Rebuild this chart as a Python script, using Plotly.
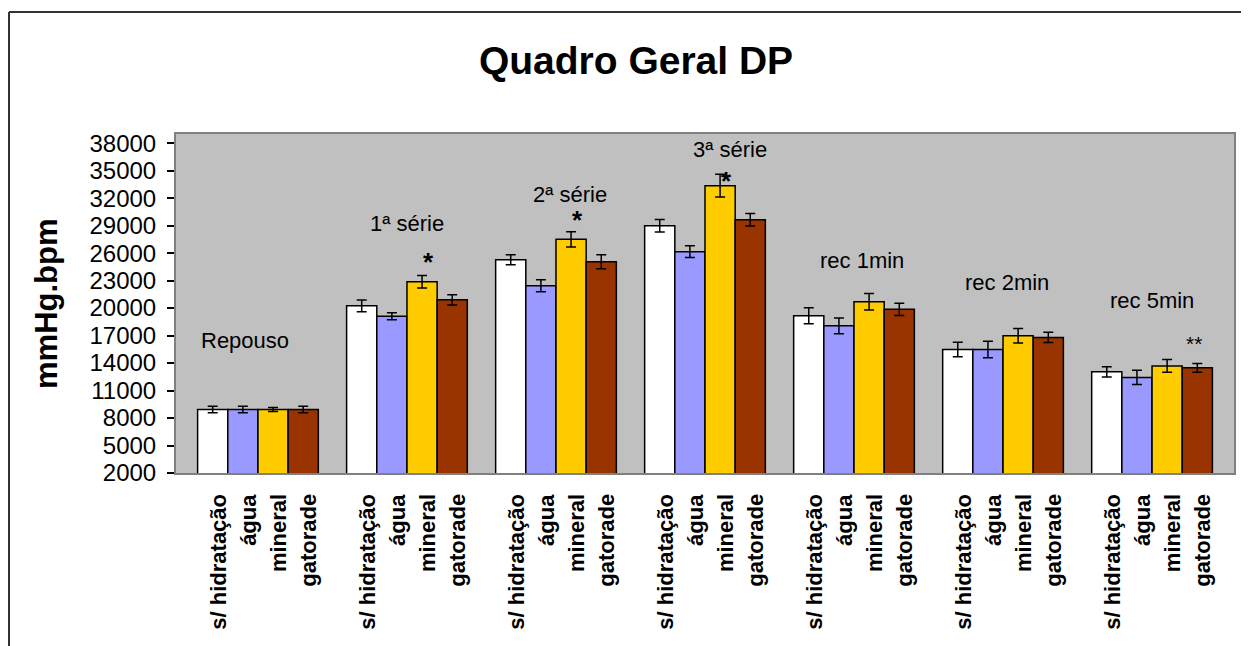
import plotly.graph_objects as go

# data
groups = ['Repouso', '1ª série', '2ª série', '3ª série', 'rec 1min', 'rec 2min', 'rec 5min']
bar_labels = ['s/ hidratação', 'água', 'mineral', 'gatorade']
colors = ['#FFFFFF', '#9999FF', '#FFCC00', '#993300']

sem_hidratacao = [8930, 20250, 25280, 28990, 19160, 15480, 13040]
agua = [8930, 19120, 22440, 26150, 18060, 15480, 12430]
mineral = [8930, 22870, 27500, 33360, 20690, 16970, 13690]
gatorade = [8930, 20900, 25060, 29650, 19860, 16800, 13480]

err_sem = [360, 640, 550, 680, 870, 800, 570]
err_agua = [360, 380, 650, 640, 870, 900, 780]
err_mineral = [220, 680, 820, 1240, 890, 790, 700]
err_gatorade = [360, 560, 760, 680, 680, 570, 480]

# group label positions (x offset inside group, y value, vertical anchor)
group_label_dx = [-0.085, 0.0, 0.095, 0.17, 0.055, 0.025, 0.0]
group_label_y = [16500, 29180, 32380, 35700, 25240, 22750, 20870]
group_label_anchor = ['middle', 'middle', 'middle', 'bottom', 'middle', 'middle', 'middle']

# significance marks: (group, bar, text, y, vertical anchor)
marks = [(1, 2, '*', 25025, 'middle'), (2, 2, '*', 29650, 'middle'),
         (3, 2, '*', 35700, 'top'), (6, 3, '**', 16170, 'middle')]

# the page body has an 8px margin, so the figure is drawn 8px smaller
off = 8
W, H = 1249 - off, 646 - off
ml, mr, mt, mb = 176 - off, 15, 134 - off, 173
bargap = 0.19
font = 'Arial, Liberation Sans, sans-serif'

series = [sem_hidratacao, agua, mineral, gatorade]
errors = [err_sem, err_agua, err_mineral, err_gatorade]

fig = go.Figure()
for name, vals, errs, col in zip(bar_labels, series, errors, colors):
    fig.add_trace(go.Bar(
        x=groups, y=vals, name=name,
        marker=dict(color=col, line=dict(color='black', width=1.5)),
        error_y=dict(type='data', array=errs, visible=True, color='black', thickness=1.5, width=5),
    ))

bw = (1 - bargap) / len(bar_labels)
annotations = []
# bar labels under the axis
for i in range(len(groups)):
    for j, lab in enumerate(bar_labels):
        annotations.append(dict(
            x=i + (j - 1.5) * bw, y=0, xref='x', yref='paper', text='<b>' + lab + '</b>',
            textangle=-90, showarrow=False, yanchor='top', xanchor='center',
            xshift=5, yshift=-19, font=dict(family=font, size=22, color='black')))
# group names
for i, g in enumerate(groups):
    annotations.append(dict(
        x=i + group_label_dx[i], y=group_label_y[i], xref='x', yref='y', text=g,
        showarrow=False, xanchor='center', yanchor=group_label_anchor[i],
        font=dict(family=font, size=22, color='black')))
# significance stars
for gi, bi, txt, yv, anc in marks:
    big = txt == '*'
    annotations.append(dict(
        x=gi + (bi - 1.5) * bw + (0.04 if big else -0.02), y=yv, xref='x', yref='y',
        text='<b>*</b>' if big else txt, showarrow=False, xanchor='center', yanchor=anc,
        font=dict(family=font, size=26 if big else 21, color='black')))

pw = W - ml - mr
ph = H - mt - mb
# y title
annotations.append(dict(
    x=(46 - off - ml) / pw, y=(H - mb - (304 - off)) / ph, xref='paper', yref='paper',
    text='<b>mmHg.bpm</b>', textangle=-90, showarrow=False, xanchor='center', yanchor='middle',
    font=dict(family=font, size=31, color='black')))

fx = (9 - off - ml) / pw
fy = (H - mb - (12 - off)) / ph
shapes = [
    dict(type='line', xref='paper', yref='paper', x0=fx, x1=1.2, y0=fy, y1=fy,
         line=dict(color='#333333', width=2)),
    dict(type='line', xref='paper', yref='paper', x0=fx, x1=fx, y0=fy, y1=-1,
         line=dict(color='#333333', width=2)),
]

fig.update_layout(
    width=W, height=H,
    margin=dict(l=ml, r=mr, t=mt, b=mb),
    paper_bgcolor='white', plot_bgcolor='#C0C0C0',
    barmode='group', bargap=bargap, bargroupgap=0,
    showlegend=False,
    title=dict(text='<b>Quadro Geral DP</b>', x=(636 - off) / W, xanchor='center', xref='container',
               y=1 - (60 - off) / H, yanchor='middle', yref='container',
               font=dict(family=font, size=39, color='black')),
    annotations=annotations,
    shapes=shapes,
)
fig.update_xaxes(range=[-0.55, 6.55], showticklabels=False, ticks='',
                 showline=True, linecolor='#808080', linewidth=2, mirror=True, showgrid=False)
fig.update_yaxes(range=[2000, 39000], tick0=2000, dtick=3000, tickformat='d',
                 ticks='outside', ticklen=7, tickcolor='black', tickwidth=1.5,
                 ticklabelstandoff=6,
                 tickfont=dict(family=font, size=24, color='black'),
                 showline=True, linecolor='#808080', linewidth=2, mirror=True,
                 showgrid=False, zeroline=False)

fig.write_html("out.html")
